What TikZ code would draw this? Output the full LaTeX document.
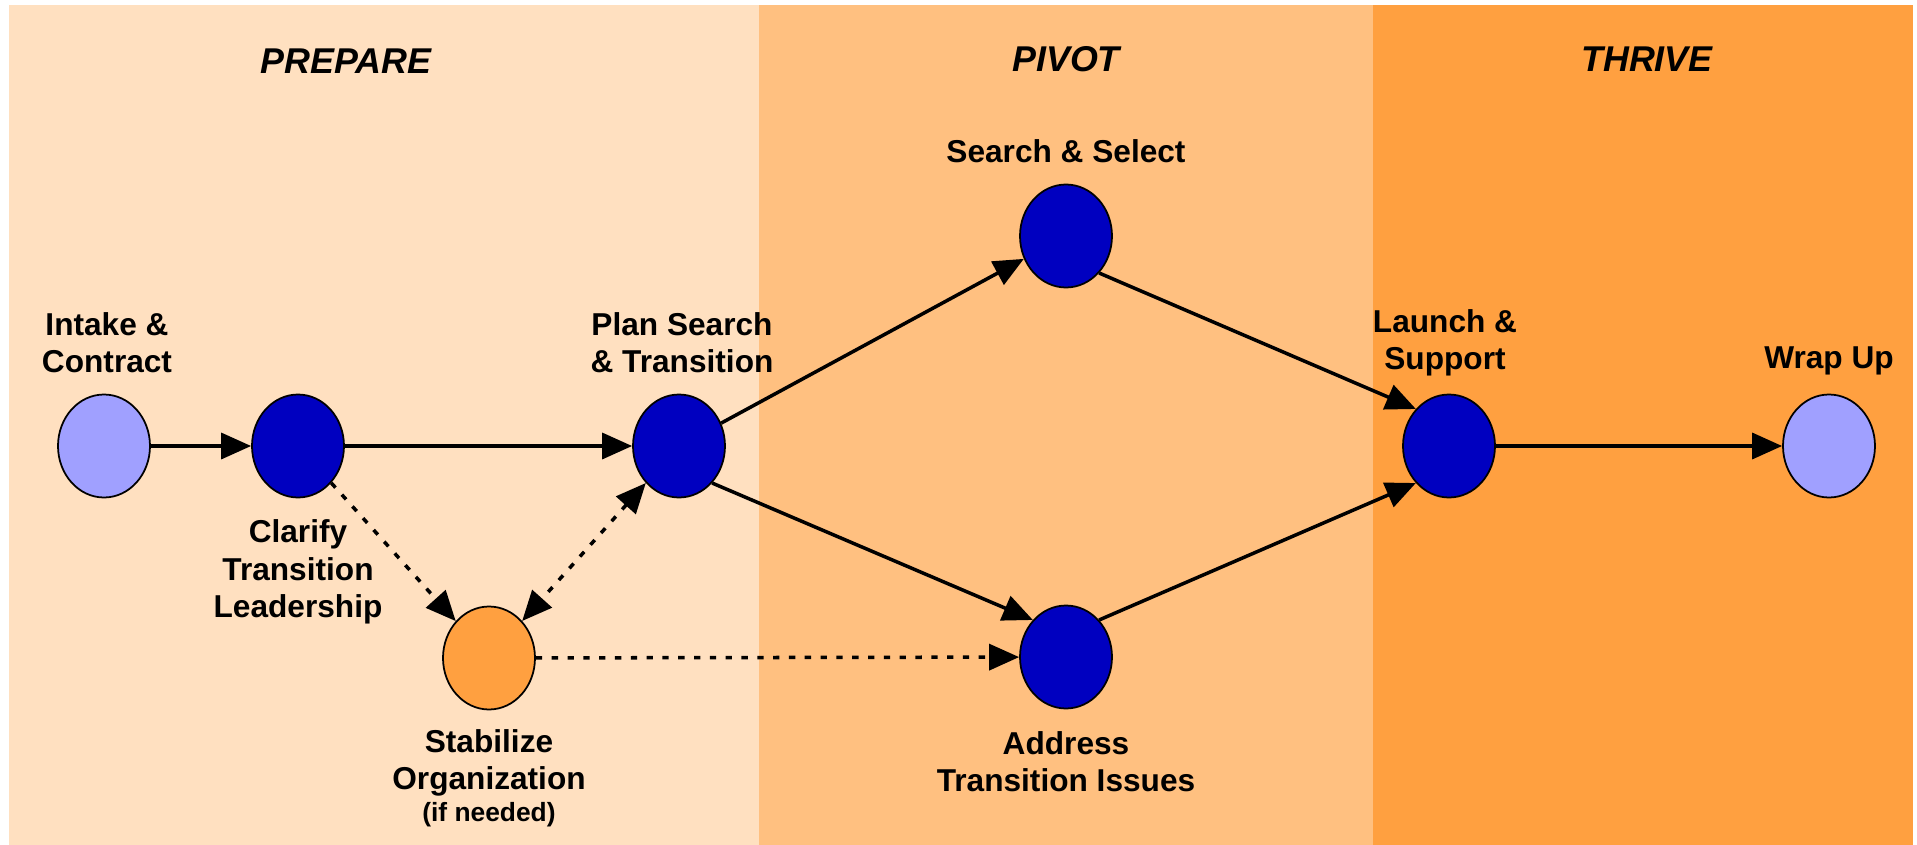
\documentclass[tikz,border=0pt]{standalone}
\usepackage{fontspec}
\setmainfont{Liberation Sans}
\usetikzlibrary{shapes, arrows.meta, positioning}
\definecolor{prepbg}{HTML}{FFE0C0}
\definecolor{pivotbg}{HTML}{FFC080}
\definecolor{thrivebg}{HTML}{FFA040}
\definecolor{stageblue}{HTML}{0000C0}
\definecolor{lightblue}{HTML}{A0A0FF}

\begin{document}
\begin{tikzpicture}[x=0.1mm, y=-0.1mm]
\tikzstyle{stage} = [ellipse, draw=black, fill=stageblue, minimum width=9.2mm, minimum height=10.3mm, inner sep=0pt, line width=0.5pt]
\tikzstyle{endstage} = [stage, fill=lightblue]
\tikzstyle{optstage} = [stage, fill=thrivebg]
\tikzstyle{caption} = [align=center, inner sep=0pt, font=\fontsize{9}{10.6}\selectfont\bfseries]
\tikzstyle{phase} = [font=\fontsize{10.2}{12}\selectfont\bfseries\itshape]
\tikzstyle{arrow} = [line width=1pt, -{Triangle[length=3mm, width=2.6mm]}]
\tikzstyle{dotarrow} = [arrow, dash pattern=on 1.8pt off 2.7pt]

\useasboundingbox (0,0) rectangle (1917,845);
\fill[white] (0,0) rectangle (1917,845);

% phase panels
\fill[prepbg] (9,5) rectangle (759,845);
\fill[pivotbg] (759,5) rectangle (1373,845);
\fill[thrivebg] (1373,5) rectangle (1913,845);

\node[phase] (prepare) at (346,61) {PREPARE};
\node[phase] (pivot) at (1066,59) {PIVOT};
\node[phase] (thrive) at (1647,59) {THRIVE};

\node[endstage] (intake) at (104,446) {};
\node[stage] (clarify) at (298,446) {};
\node[stage] (plan) at (679,446) {};
\node[optstage] (stabilize) at (489,658) {};
\node[stage] (search) at (1066,236) {};
\node[stage] (address) at (1066,657) {};
\node[stage] (launch) at (1449,446) {};
\node[endstage] (wrap) at (1829,446) {};

\node[caption] (intakecap) at (107,343) {Intake \&\\Contract};
\node[caption] (clarifycap) at (298,572) {Clarify\\Transition\\Leadership};
\node[caption] (plancap) at (682,343) {Plan Search\\\& Transition};
\node[caption] (searchcap) at (1066,151) {Search \& Select};
\node[caption] (stabilizecap) at (489,778) {Stabilize\\Organization\\[-1.5pt]{\fontsize{7.5}{9}\selectfont (if needed)}};
\node[caption] (addresscap) at (1066,762) {Address\\Transition Issues};
\node[caption] (launchcap) at (1445,343) {Launch \&\\Support};
\node[caption] (wrapcap) at (1829,361) {Wrap Up};

\draw [arrow] (intake) -- (clarify);
\draw [arrow] (clarify) -- (plan);
\draw [arrow] (plan) -- (search);
\draw [arrow] (plan.south east) -- (address.north west);
\draw [arrow] (search.south east) -- (launch.north west);
\draw [arrow] (address.north east) -- (launch.south west);
\draw [arrow] (launch) -- (wrap);
\draw [dotarrow] (clarify) -- (stabilize);
\draw [dotarrow, {Triangle[length=3mm, width=2.6mm]}-{Triangle[length=3mm, width=2.6mm]}] (plan) -- (stabilize);
\draw [dotarrow] (stabilize) -- (address);
\end{tikzpicture}
\end{document}
